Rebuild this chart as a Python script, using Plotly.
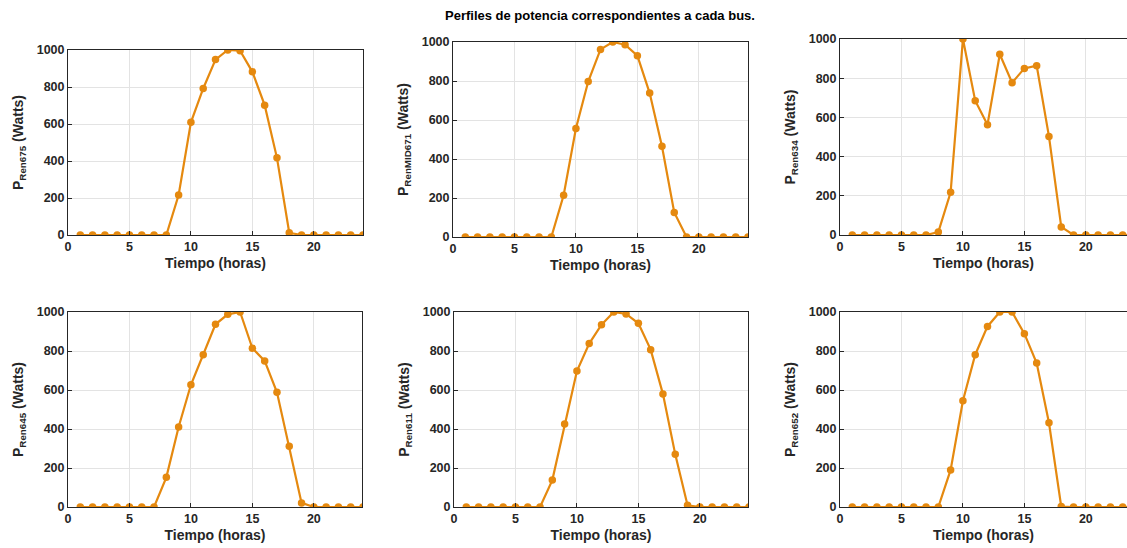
import plotly.graph_objects as go

hours = list(range(1, 25))

p_ren675 = [0, 0, 0, 0, 0, 0, 0, 0, 216, 609, 792, 948, 1000, 996, 882, 702, 417, 12, 0, 0, 0, 0, 0, 0]
p_renmid671 = [0, 0, 0, 0, 0, 0, 0, 0, 214, 556, 797, 962, 1000, 986, 930, 738, 465, 126, 0, 0, 0, 0, 0, 0]
p_ren634 = [0, 0, 0, 0, 0, 0, 0, 15, 218, 1000, 685, 563, 922, 777, 850, 864, 503, 41, 0, 0, 0, 0, 0, 0]
p_ren645 = [0, 0, 0, 0, 0, 0, 0, 152, 410, 627, 781, 937, 988, 1000, 814, 749, 588, 311, 21, 0, 0, 0, 0, 0]
p_ren611 = [0, 0, 0, 0, 0, 0, 0, 138, 426, 697, 838, 935, 1000, 990, 942, 807, 579, 270, 9, 0, 0, 0, 0, 0]
p_ren652 = [0, 0, 0, 0, 0, 0, 0, 0, 190, 545, 781, 926, 1000, 1000, 889, 738, 432, 2, 0, 0, 0, 0, 0, 0]

series = [p_ren675, p_renmid671, p_ren634, p_ren645, p_ren611, p_ren652]
names = ["Ren675", "RenMID671", "Ren634", "Ren645", "Ren611", "Ren652"]

x_title = "Tiempo (horas)"
y_unit = "(Watts)"
main_title = "Perfiles de potencia correspondientes a cada bus."

W, H = 1127, 548
# pixel boxes of each axes: (left, right, top, bottom)
boxes = [
    (68, 363, 50, 235),
    (453, 748, 42, 237),
    (840, 1127, 39, 235),
    (68, 362, 312, 507),
    (454, 748, 312, 507),
    (840, 1127, 312, 507),
]
px_per_hour = 295 / 24.0

color = "#E5890F"
axcol = "#262626"
fig = go.Figure()
layout = dict(
    width=W, height=H, margin=dict(l=0, r=0, t=0, b=0, pad=0, autoexpand=False),
    paper_bgcolor="white", plot_bgcolor="white", showlegend=False,
    font=dict(family="Liberation Sans, Arial, sans-serif", color=axcol),
)

for i, (vals, nm, box) in enumerate(zip(series, names, boxes)):
    k = "" if i == 0 else str(i + 1)
    l, r, t, b = box
    fig.add_trace(go.Scatter(
        x=hours, y=vals, mode="lines+markers",
        line=dict(color=color, width=2.2),
        marker=dict(color=color, size=7.5, symbol="circle"),
        xaxis="x" + k, yaxis="y" + k,
    ))
    xmax = (r - l) / px_per_hour
    clipped = r >= W
    layout["xaxis" + k] = dict(
        domain=[l / W, r / W], anchor="y" + k, range=[0, xmax], automargin=False,
        tickvals=[0, 5, 10, 15, 20], ticks="inside", ticklen=4, tickcolor=axcol,
        showgrid=True, gridcolor="#e3e3e3", gridwidth=1, zeroline=False,
        showline=True, linecolor=axcol, linewidth=1, mirror=True,
        tickfont=dict(size=12.5, weight="bold", color=axcol),
        title=dict(text=x_title, font=dict(size=14, weight="bold", color=axcol), standoff=5),
        fixedrange=True,
    )
    layout["yaxis" + k] = dict(
        domain=[1 - b / H, 1 - t / H], anchor="x" + k, range=[0, 1000], automargin=False,
        tickvals=[0, 200, 400, 600, 800, 1000], ticks="inside", ticklen=4, tickcolor=axcol,
        showgrid=True, gridcolor="#e3e3e3", gridwidth=1, zeroline=False,
        showline=True, linecolor=axcol, linewidth=1, mirror=(False if clipped else True),
        tickfont=dict(size=12.5, weight="bold", color=axcol),
        title=dict(text="P<sub>" + nm + "</sub> " + y_unit,
                   font=dict(size=14, weight="bold", color=axcol), standoff=9),
        fixedrange=True,
    )

layout["annotations"] = [dict(
    text=main_title, x=600 / W, y=1 - 16 / H, xref="paper", yref="paper",
    xanchor="center", yanchor="middle", showarrow=False,
    font=dict(size=13, weight="bold", color="black"),
)]
fig.update_layout(**layout)
fig.write_html(
    "out.html",
    config={"displayModeBar": False, "staticPlot": True},
    post_script=(
        "document.documentElement.style.margin='0';"
        "document.body.style.margin='0';"
        "document.body.style.overflow='hidden';"
        "document.documentElement.style.overflow='hidden';"
        "var d=document.getElementById('{plot_id}');"
        "d.style.position='fixed';d.style.top='0';d.style.left='0';"
    ),
)
